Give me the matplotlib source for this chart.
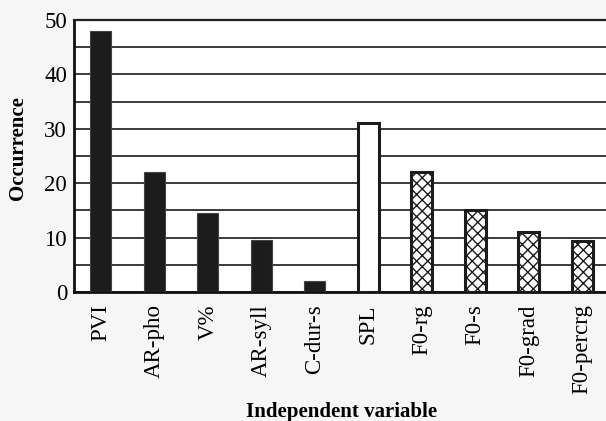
import matplotlib
matplotlib.use("Agg")
import matplotlib.pyplot as plt
import numpy as np

plt.rcParams['font.family'] = ['Liberation Serif', 'DejaVu Serif']
plt.rcParams['hatch.linewidth'] = 1.0

categories = ["PVI", "AR-pho", "V%", "AR-syll", "C-dur-s",
              "SPL", "F0-rg", "F0-s", "F0-grad", "F0-percrg"]
occurrence = [48, 22, 14.5, 9.5, 2, 31, 22, 15, 11, 9.4]
# group of each variable: timing (solid), intensity (open), pitch (hatched)
groups = ["t", "t", "t", "t", "t", "i", "p", "p", "p", "p"]

fig = plt.figure(figsize=(6.06, 4.21), dpi=100, facecolor="#f6f6f6")
ax = fig.add_axes([74/606, 1 - 292/421, 535/606, 272/421])
ax.set_facecolor("white")

x = np.arange(len(categories))
for xi, v, g in zip(x, occurrence, groups):
    if g == "t":
        ax.bar(xi, v, width=0.39, color="#1c1c1c", edgecolor="#444444", linewidth=0.8, zorder=3)
    elif g == "i":
        ax.bar(xi, v, width=0.39, color="white", edgecolor="#1c1c1c", linewidth=2.2, zorder=3)
    else:
        ax.bar(xi, v, width=0.39, color="white", edgecolor="#1c1c1c", linewidth=2.2,
               hatch="xxx", zorder=3)

ax.set_xlim(-0.5, 9.5)
ax.set_ylim(0, 50)
ax.set_yticks([0, 10, 20, 30, 40, 50])
ax.set_yticks([5, 15, 25, 35, 45], minor=True)
ax.yaxis.grid(True, which="both", color="#3a3a3a", linewidth=1.4, zorder=0)
ax.set_axisbelow(True)

ax.set_xticks(x)
ax.set_xticklabels(categories, rotation=90, va="top", ha="center", fontsize=16.5)
ax.tick_params(axis="x", length=0, pad=9)
ax.tick_params(axis="y", which="both", length=0, pad=5, labelsize=16.5)

for s in ["left", "bottom"]:
    ax.spines[s].set_linewidth(2.0)
    ax.spines[s].set_color("#111111")
ax.spines["top"].set_linewidth(1.6)
ax.spines["top"].set_color("#222222")
ax.spines["right"].set_visible(False)

ax.set_ylabel("Occurrence", fontsize=15, fontweight="bold")
ax.yaxis.set_label_coords(-(74 - 28) / 535, (292 - 148) / 272)
ax.set_xlabel("Independent variable", fontsize=15, fontweight="bold")
ax.xaxis.set_label_coords(0.5, -(412 - 292) / 272)
ax.xaxis.label.set_va("center")

fig.savefig("out.png", dpi=100, facecolor=fig.get_facecolor())
